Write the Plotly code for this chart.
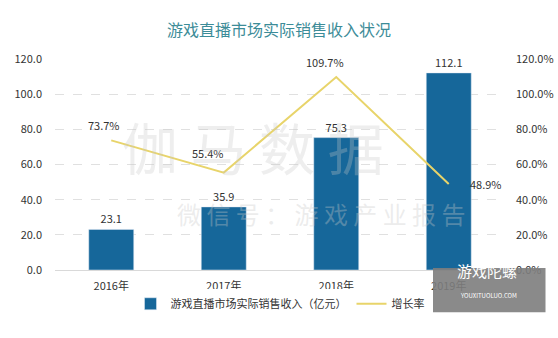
import plotly.graph_objects as go

years = ["2016年", "2017年", "2018年", "2019年"]
revenue = [23.1, 35.9, 75.3, 112.1]
growth = [73.7, 55.4, 109.7, 48.9]
left_ticks = [0, 20, 40, 60, 80, 100, 120]
label_shift_x = [-7, -16, -11, 37]
label_shift_y = [15, 20, 15, 0]

font_family = "Noto Sans CJK SC, Noto Sans, sans-serif"

fig = go.Figure()
fig.add_trace(go.Bar(
    x=years, y=revenue, name="游戏直播市场实际销售收入（亿元）",
    marker_color="#16679A", width=0.4,
    text=[f"{v:.1f}" for v in revenue], textposition="outside",
    textfont=dict(size=11, color="#333333"), cliponaxis=False,
))
fig.add_trace(go.Scatter(
    x=years, y=growth, name="增长率", mode="lines",
    line=dict(color="#E8D46A", width=2), yaxis="y2", cliponaxis=False,
))

for yr, g, dx, dy in zip(years, growth, label_shift_x, label_shift_y):
    fig.add_annotation(x=yr, y=g, xref="x", yref="y2", text=f"{g:.1f}%",
                       showarrow=False, xshift=dx, yshift=dy,
                       font=dict(size=11, color="#333333"))

fig.update_layout(
    width=558, height=338,
    margin=dict(l=55, r=53, t=59, b=68),
    paper_bgcolor="white", plot_bgcolor="white",
    font=dict(family=font_family, size=11, color="#333333"),
    title=dict(text="游戏直播市场实际销售收入状况", x=0.5, xanchor="center",
               y=0.91, yanchor="middle",
               font=dict(size=16, color="#3C8C98", family=font_family)),
    bargap=0.6,
    xaxis=dict(showline=True, linecolor="#D9D9D9", ticks="", tickfont=dict(size=11),
               ticklabelstandoff=6, automargin=False),
    yaxis=dict(range=[0, 120], tickvals=left_ticks,
               ticktext=[f"{v:.1f}" for v in left_ticks],
               showgrid=True, gridcolor="#E0E0E0", griddash="dash", zeroline=False,
               ticklabelstandoff=12, automargin=False),
    yaxis2=dict(range=[0, 120], tickvals=left_ticks,
                ticktext=[f"{v:.1f}%" for v in left_ticks],
                overlaying="y", side="right", showgrid=False, zeroline=False,
                ticklabelstandoff=10, automargin=False),
    legend=dict(orientation="h", x=0.5, xanchor="center", y=-0.16, yanchor="middle",
                font=dict(size=11), itemwidth=30),
    showlegend=True,
)

# watermarks
fig.add_annotation(text="伽 马 数 据", xref="paper", yref="paper", x=0.44, y=0.59,
                   showarrow=False, font=dict(size=56, color="rgba(200,200,200,0.3)"))
fig.add_annotation(text="微 信 号 ： 游 戏 产 业 报 告", xref="paper", yref="paper", x=0.59, y=0.175,
                   showarrow=False, font=dict(size=24, color="rgba(200,200,200,0.35)"))
# logo
fig.add_shape(type="rect", xref="paper", yref="paper", x0=0.84, x1=1.09, y0=-0.2, y1=0.01,
              fillcolor="rgba(125,125,125,0.9)", line=dict(width=0), layer="above")
fig.add_annotation(text="游戏陀螺", xref="paper", yref="paper", x=1.03, y=-0.06,
                   showarrow=False, font=dict(size=15, color="white"))
fig.add_annotation(text="YOUXITUOLUO.COM", xref="paper", yref="paper", x=1.03, y=-0.15,
                   showarrow=False, font=dict(size=6, color="white"))

fig.write_html("out.html")
